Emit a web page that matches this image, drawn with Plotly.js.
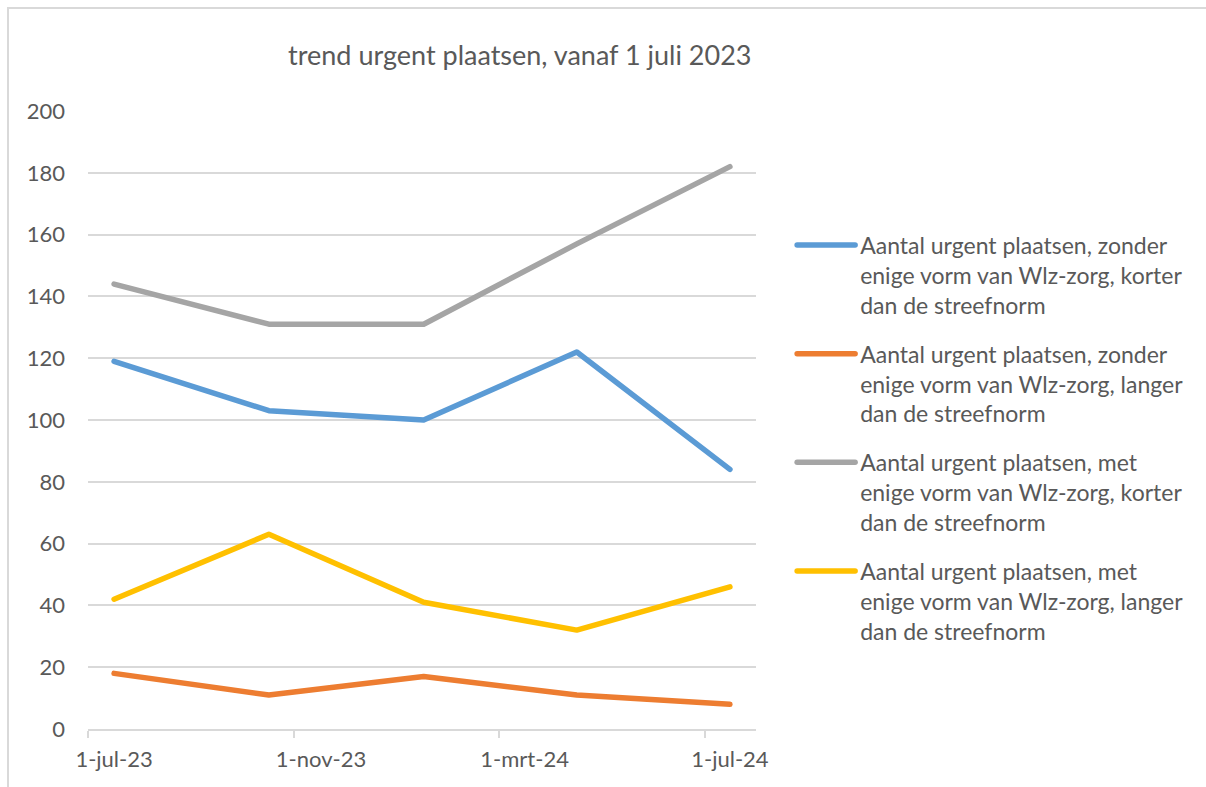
<!DOCTYPE html>
<html>
<head>
<meta charset="utf-8">
<script src="https://cdn.plot.ly/plotly-3.0.1.min.js"></script>
<style>
  body { margin: 0; background: #fff; }
  #wrap { position: relative; width: 1206px; height: 787px; overflow: hidden; }
  #chart { width: 1206px; height: 787px; }
  #frame {
    position: absolute; left: 7px; top: 7px; width: 1300px; height: 900px;
    border-left: 2px solid #d9d9d9; border-top: 2px solid #d9d9d9;
    pointer-events: none;
  }
  .scatterlayer .js-line, .legend .js-line { stroke-linecap: round; stroke-linejoin: round; }
</style>
</head>
<body>
<div id="wrap">
  <div id="chart"></div>
  <div id="frame"></div>
</div>
<script>
  const dates = ['2023-07-01', '2023-10-01', '2024-01-01', '2024-04-01', '2024-07-01'];

  const zonderKorter = [119, 103, 100, 122, 84];
  const zonderLanger = [18, 11, 17, 11, 8];
  const metKorter = [144, 131, 131, 157, 182];
  const metLanger = [42, 63, 41, 32, 46];

  const seriesNames = [
    'Aantal urgent plaatsen, zonder<br>enige vorm van Wlz-zorg, korter<br>dan de streefnorm',
    'Aantal urgent plaatsen, zonder<br>enige vorm van Wlz-zorg, langer<br>dan de streefnorm',
    'Aantal urgent plaatsen, met<br>enige vorm van Wlz-zorg, korter<br>dan de streefnorm',
    'Aantal urgent plaatsen, met<br>enige vorm van Wlz-zorg, langer<br>dan de streefnorm'
  ];
  const seriesColors = ['#5B9BD5', '#ED7D31', '#A5A5A5', '#FFC000'];

  const labelVals = ['2023-07-01', '2023-11-01', '2024-03-01', '2024-07-01'];
  const labelText = ['1-jul-23', '1-nov-23', '1-mrt-24', '1-jul-24'];
  // excel puts the tick marks half a month before each label
  const tickMarkVals = ['2023-06-15 12:00', '2023-10-16', '2024-02-15', '2024-06-16'];

  const FONT = 'Lato, "Open Sans", sans-serif';
  const TEXT = '#595959';

  const traces = [zonderKorter, zonderLanger, metKorter, metLanger].map((vals, i) => ({
    x: dates,
    y: vals,
    type: 'scatter',
    mode: 'lines',
    name: seriesNames[i],
    legendgroup: 'g' + i,
    line: { color: seriesColors[i], width: 5.5 },
    hoverinfo: 'x+y'
  }));

  const layout = {
    width: 1206,
    height: 787,
    margin: { l: 88, r: 450, t: 111, b: 58 },
    paper_bgcolor: '#fff',
    plot_bgcolor: '#fff',
    font: { family: FONT, color: TEXT, size: 22 },
    title: {
      text: 'trend urgent plaatsen, vanaf 1 juli 2023',
      font: { family: FONT, size: 27, color: TEXT },
      x: 0.431, xanchor: 'center',
      y: 0.93, yanchor: 'middle'
    },
    xaxis: {
      type: 'date',
      range: ['2023-06-15 12:00', '2024-07-16 12:00'],
      tickmode: 'array',
      tickvals: labelVals,
      ticktext: labelText,
      ticks: '',
      ticklabelstandoff: 10,
      showgrid: false,
      zeroline: false,
      showline: true,
      linecolor: '#d9d9d9',
      linewidth: 2,
      minor: {
        tickmode: 'array',
        tickvals: tickMarkVals,
        ticks: 'outside',
        ticklen: 7,
        tickwidth: 2,
        tickcolor: '#d9d9d9',
        showgrid: false
      },
      tickfont: { family: FONT, size: 22, color: TEXT },
      fixedrange: true
    },
    yaxis: {
      range: [0, 200],
      dtick: 20,
      showgrid: true,
      gridcolor: '#d9d9d9',
      gridwidth: 1.6,
      zeroline: false,
      showline: false,
      ticks: '',
      ticklabelstandoff: 22,
      tickfont: { family: FONT, size: 22, color: TEXT },
      fixedrange: true
    },
    showlegend: true,
    legend: {
      x: 1.096, xanchor: 'left',
      y: 0.818, yanchor: 'top',
      valign: 'top',
      traceorder: 'grouped',
      tracegroupgap: 16,
      bgcolor: 'rgba(0,0,0,0)',
      font: { family: FONT, size: 23, color: TEXT }
    }
  };

  // longer legend swatches, like the excel original (the legend clip would cut them)
  function stretchSwatches() {
    document.querySelectorAll('#chart .legend .scrollbox').forEach(g => {
      g.removeAttribute('clip-path');
      g.style.clipPath = 'none';
    });
    document.querySelectorAll('#chart .legend path.js-line').forEach(p => {
      p.setAttribute('d', 'M-23,0h58');
    });
  }

  const gd = document.getElementById('chart');
  Plotly.newPlot(gd, traces, layout, { displayModeBar: false }).then(() => {
    stretchSwatches();
    gd.on('plotly_afterplot', stretchSwatches);
    setTimeout(stretchSwatches, 300);
  });
</script>
</body>
</html>
